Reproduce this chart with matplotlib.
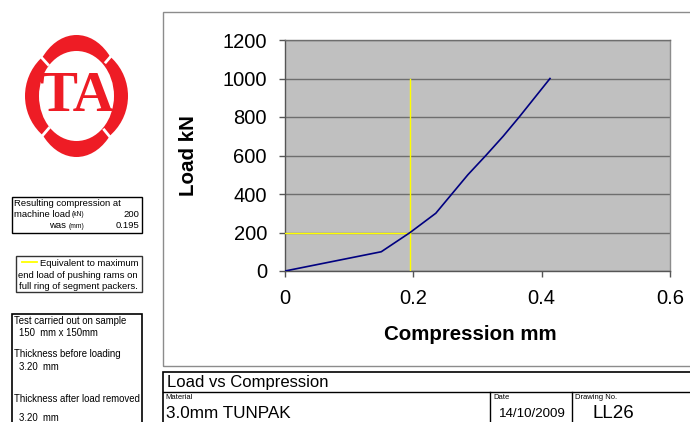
import matplotlib
matplotlib.use("Agg")
import matplotlib.pyplot as plt
from matplotlib.patches import Rectangle, Ellipse
from matplotlib.lines import Line2D

plt.rcParams['font.family'] = ['Liberation Sans', 'DejaVu Sans']

# ---- data ----
compression = [0.0, 0.15, 0.195, 0.235, 0.26, 0.285, 0.313, 0.340, 0.365, 0.413]
load = [0, 100, 200, 300, 400, 500, 600, 700, 800, 1000]
ref_load = 200
ref_comp = 0.195
ref_top = 1000
x_ticks = [0, 0.2, 0.4, 0.6]
x_tick_labels = ['0', '0.2', '0.4', '0.6']
y_ticks = [0, 200, 400, 600, 800, 1000, 1200]

W, H = 690, 422
fig = plt.figure(figsize=(W / 100, H / 100), dpi=100)

def fx(px):
    return px / W

def fy(py):
    return 1 - py / H

def frect(x0, y0, x1, y1, color, lw=1.0, fc='none', z=1):
    r = Rectangle((fx(x0), fy(y1)), fx(x1) - fx(x0), fy(y0) - fy(y1),
                  transform=fig.transFigure, fill=(fc != 'none'), facecolor=fc,
                  edgecolor=color, lw=lw, zorder=z)
    fig.add_artist(r)

def fline(x0, y0, x1, y1, color='black', lw=1.0):
    fig.add_artist(Line2D([fx(x0), fx(x1)], [fy(y0), fy(y1)], transform=fig.transFigure,
                          color=color, lw=lw))

def ftext(x, y, s, size, ha='left', va='center', **kw):
    fig.text(fx(x), fy(y), s, fontsize=size, ha=ha, va=va, **kw)

# ---- chart frame ----
frect(163, 12, 700, 366, '#8c8c8c', lw=1.0)

# ---- main axes ----
ax = fig.add_axes([fx(285), fy(271), fx(670) - fx(285), fy(40) - fy(271)])
ax.set_facecolor('#c0c0c0')
ax.plot(compression, load, color='#000080', lw=1.2, zorder=4)
ax.plot([0, ref_comp], [ref_load, ref_load], color='#ffff00', lw=1.0, zorder=3)
ax.plot([ref_comp, ref_comp], [0, ref_top], color='#ffff00', lw=1.0, zorder=3)
ax.set_xlim(0, 0.6)
ax.set_ylim(0, 1200)
ax.set_xticks(x_ticks)
ax.set_xticklabels(x_tick_labels)
ax.set_yticks(y_ticks)
ax.yaxis.grid(True, color='#6e6e6e', lw=1.0)
ax.set_axisbelow(True)
ax.spines['top'].set_color('#6e6e6e')
ax.spines['right'].set_color('#8c8c8c')
for s in ['left', 'bottom']:
    ax.spines[s].set_color('#555555')
for s in ax.spines:
    ax.spines[s].set_linewidth(1.0)
ax.tick_params(axis='both', direction='out', length=4, width=1, color='#555555',
               labelsize=14.5, pad=9)

ftext(470, 334, 'Compression mm', 14.8, ha='center', va='center', fontweight='bold')
ftext(189, 156, 'Load kN', 14.8, ha='center', va='center', fontweight='bold', rotation=90)

# ---- title block ----
frect(163, 372, 700, 430, 'black', lw=1.2)
fline(163, 392, 700, 392, 'black', 1.0)
fline(490, 392, 490, 430, 'black', 1.0)
fline(572, 392, 572, 430, 'black', 1.0)
ftext(167, 382, 'Load vs Compression', 12, va='center')
ftext(165, 397.5, 'Material', 5.5, va='center')
ftext(166, 413, '3.0mm TUNPAK', 12.3, va='center')
ftext(493, 397.5, 'Date', 5.5, va='center')
ftext(566, 414, '14/10/2009', 9.6, ha='right', va='center')
ftext(575, 397.5, 'Drawing No.', 5.5, va='center')
ftext(613, 413, 'LL26', 13.5, ha='center', va='center')

# ---- left info boxes ----
frect(12, 197, 142, 233, 'black', lw=1.0)
ftext(14, 203.5, 'Resulting compression at', 6.8)
ftext(14, 214.5, 'machine load', 6.8)
ftext(72, 215, '(kN)', 4.8, va='center')
ftext(139, 214.5, '200', 6.8, ha='right')
ftext(49, 226, 'was', 6.8)
ftext(69, 226.5, '(mm)', 4.8, va='center')
ftext(139, 226, '0.195', 6.8, ha='right')

frect(16, 256, 142, 292, '#333333', lw=1.0)
fline(22, 262, 37, 262, '#ffff00', 1.3)
ftext(138, 263, 'Equivalent to maximum', 6.8, ha='right')
ftext(78, 275, 'end load of pushing rams on', 6.8, ha='center')
ftext(78, 286.5, 'full ring of segment packers.', 6.8, ha='center')

frect(12, 314, 142, 440, 'black', lw=1.2)
ftext(14, 321, 'Test carried out on sample', 6.9)
ftext(19, 333, '150  mm x 150mm', 6.9)
ftext(14, 354, 'Thickness before loading', 6.9)
ftext(19, 367, '3.20  mm', 6.9)
ftext(14, 399, 'Thickness after load removed', 6.9)
ftext(19, 418, '3.20  mm', 6.9)

# ---- logo (pixel coordinates) ----
lax = fig.add_axes([fx(25), fy(157), fx(128) - fx(25), fy(35) - fy(157)])
lax.set_xlim(25, 128)
lax.set_ylim(157, 35)
lax.axis('off')
red = '#ee1c25'
cx, cy = 76.5, 96
lax.add_patch(Ellipse((cx, cy), 2 * 44, 2 * 61, facecolor=red, edgecolor='none', zorder=1))
lax.add_patch(Ellipse((cx, cy), 2 * 51.5, 2 * 52, facecolor=red, edgecolor='none', zorder=1))
lax.add_patch(Ellipse((cx, cy), 2 * 37.5, 2 * 45, facecolor='white', edgecolor='none', zorder=2))
for gx, gy in [(42, 58), (112, 55), (43, 135), (110, 137)]:
    dx, dy = gx - cx, gy - cy
    lax.plot([cx + dx * 0.8, cx + dx * 1.6], [cy + dy * 0.8, cy + dy * 1.6],
             color='white', lw=2.0, zorder=3, solid_capstyle='butt')
lax.text(cx, cy + 1, 'TA', fontsize=41, fontweight='bold', color=red,
         family=['Liberation Serif', 'DejaVu Serif'], ha='center', va='center', zorder=4)

fig.savefig('out.png', dpi=100)
